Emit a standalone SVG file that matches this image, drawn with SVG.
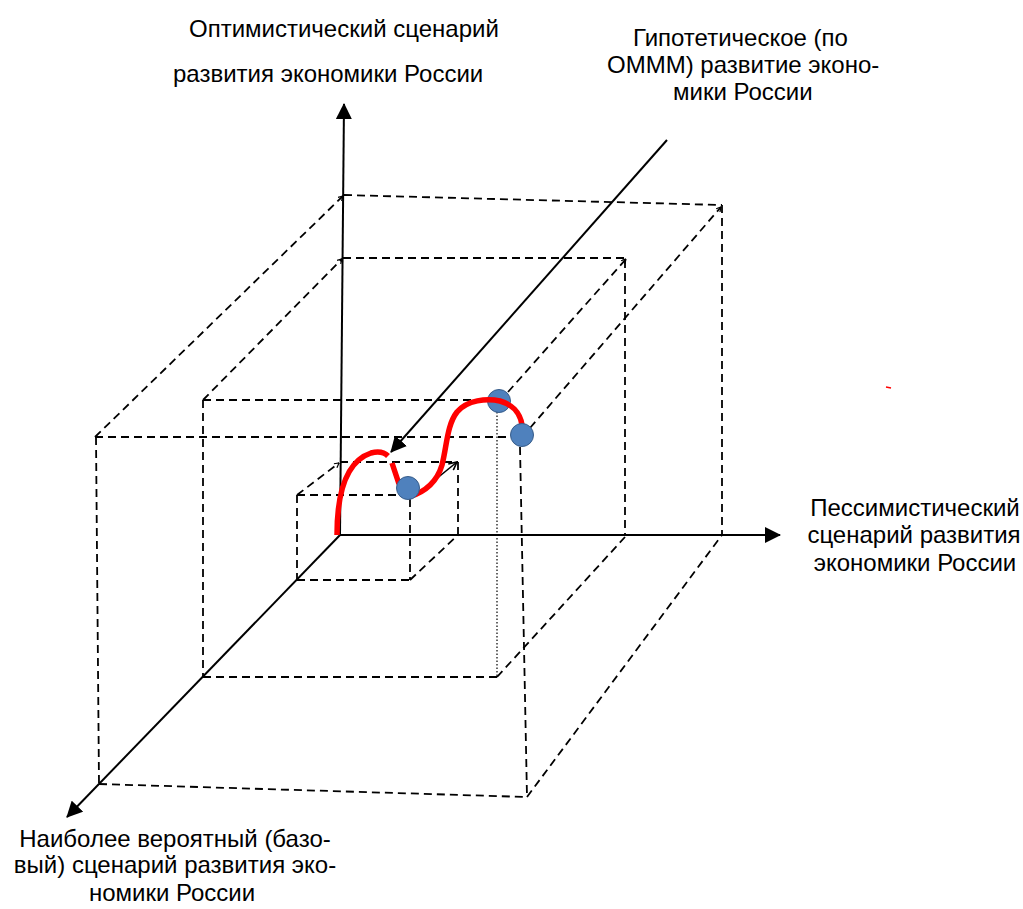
<svg xmlns="http://www.w3.org/2000/svg" width="1023" height="909" viewBox="0 0 1023 909">
<style>
.lbl{font-family:"Liberation Sans",Arial,sans-serif;font-size:24px;fill:#000}
.ax{stroke:#000;stroke-width:2;fill:none}
.ds{stroke:#000;stroke-width:1.8;fill:none;stroke-dasharray:8 5}
.dt{stroke:#000;stroke-width:1.2;fill:none;stroke-dasharray:1.5 2}
.cv{stroke:#FF0000;stroke-width:5.5;fill:none}
.pt{fill:#4F81BD;stroke:#385D8A;stroke-width:1}
</style>
<defs>
<marker id="ah" viewBox="0 0 16 16" refX="15" refY="8" markerWidth="16" markerHeight="16" markerUnits="userSpaceOnUse" orient="auto">
<path d="M0,0 L16,8 L0,16 z" fill="#000"/>
</marker>
<marker id="oh" viewBox="0 0 10 10" refX="9" refY="5" markerWidth="10" markerHeight="10" markerUnits="userSpaceOnUse" orient="auto">
<path d="M1,1 L9,5 L1,9" fill="none" stroke="#000" stroke-width="1.6"/>
</marker>
<marker id="th" viewBox="0 0 6 6" refX="5.5" refY="3" markerWidth="6" markerHeight="6" markerUnits="userSpaceOnUse" orient="auto">
<path d="M1,0.5 L5.5,3 L1,5.5" fill="none" stroke="#000" stroke-width="1.2"/>
</marker>
</defs>

<g id="outer-box">
<path class="ds" d="M344,195 L722,205"/>
<path class="ds" d="M722,205 L722,535"/>
<path class="ds" d="M95,437 L512,437"/>
<path class="ds" d="M96,437 L99,784"/>
<path class="ds" d="M99,784 L527,797"/>
<path class="ds" d="M520,447 L527,797"/>
<path class="ds" d="M95,437 L343,196" marker-end="url(#th)"/>
<path class="ds" d="M530,428 L721,207" marker-end="url(#th)"/>
<path class="ds" d="M527,797 L722,535"/>
</g>

<g id="middle-box">
<path class="ds" d="M343,258 L627,258"/>
<path class="ds" d="M625,260 L625,535"/>
<path class="ds" d="M203,400 L487,400"/>
<path class="ds" d="M203,400 L203,677"/>
<path class="ds" d="M203,677 L497,677"/>
<path class="dt" d="M497,412 L497,677"/>
<path class="ds" d="M203,400 L342,259" marker-end="url(#th)"/>
<path class="ds" d="M508,392 L626,259" marker-end="url(#th)"/>
<path class="ds" d="M497,677 L625,537"/>
</g>

<g id="small-box">
<path class="ds" d="M340,462 L458,462"/>
<path class="ds" d="M458,462 L458,535"/>
<path class="ds" d="M297,495 L398,495"/>
<path class="ds" d="M297,495 L297,580"/>
<path class="ds" d="M297,580 L410,580"/>
<path class="ds" d="M410,499 L410,580"/>
<path class="ds" d="M297,495 L339,463" marker-end="url(#th)"/>
<path class="ds" d="M410,580 L458,535"/>
<path class="ax" style="stroke-width:1.6" d="M414,497 L457,462" marker-end="url(#oh)"/>
</g>

<g id="connectors">
<path id="axis-optimistic" class="ax" d="M340,535 L344,104" marker-end="url(#ah)"/>
<path id="axis-pessimistic" class="ax" d="M340,535 L780,535" marker-end="url(#ah)"/>
<path id="axis-base" class="ax" d="M340,535 L67,817" marker-end="url(#ah)"/>
<path id="axis-hypothetical" class="ax" d="M667,140 L391,452" marker-end="url(#ah)"/>
</g>

<g id="trajectory">
<circle class="pt" cx="499" cy="401" r="11.5"/>
<path class="cv" d="M337,535 C337,497 344,462 371,453 C379,451 385,453 388,456"/>
<path class="cv" d="M392,463 L399,484"/>
<path class="cv" d="M409,497 C425,492 437,482 442,465 C447,445 447,425 457,412 C467,400 487,398 500,401 C511,404 520,412 522,425"/>
<circle class="pt" cx="408" cy="488" r="11.5"/>
<circle class="pt" cx="522" cy="435" r="11.5"/>
<path d="M886,387 L891,388" stroke="#FF0000" stroke-width="1.5"/>
</g>

<g id="label-optimistic">
<text class="lbl" x="189" y="37">Оптимистический сценарий</text>
<text class="lbl" x="173" y="82">развития экономики России</text>
</g>
<g id="label-hypothetical">
<text class="lbl" x="633" y="46">Гипотетическое (по</text>
<text class="lbl" x="607" y="73">ОМММ) развитие эконо-</text>
<text class="lbl" x="673" y="100">мики России</text>
</g>
<g id="label-pessimistic">
<text class="lbl" x="915" y="516" text-anchor="middle">Пессимистический</text>
<text class="lbl" x="914" y="543" text-anchor="middle">сценарий развития</text>
<text class="lbl" x="915" y="571" text-anchor="middle">экономики России</text>
</g>
<g id="label-base">
<text class="lbl" x="175" y="847" text-anchor="middle">Наиболее вероятный (базо-</text>
<text class="lbl" x="175" y="873" text-anchor="middle">вый) сценарий развития эко-</text>
<text class="lbl" x="172" y="901" text-anchor="middle">номики России</text>
</g>
</svg>
